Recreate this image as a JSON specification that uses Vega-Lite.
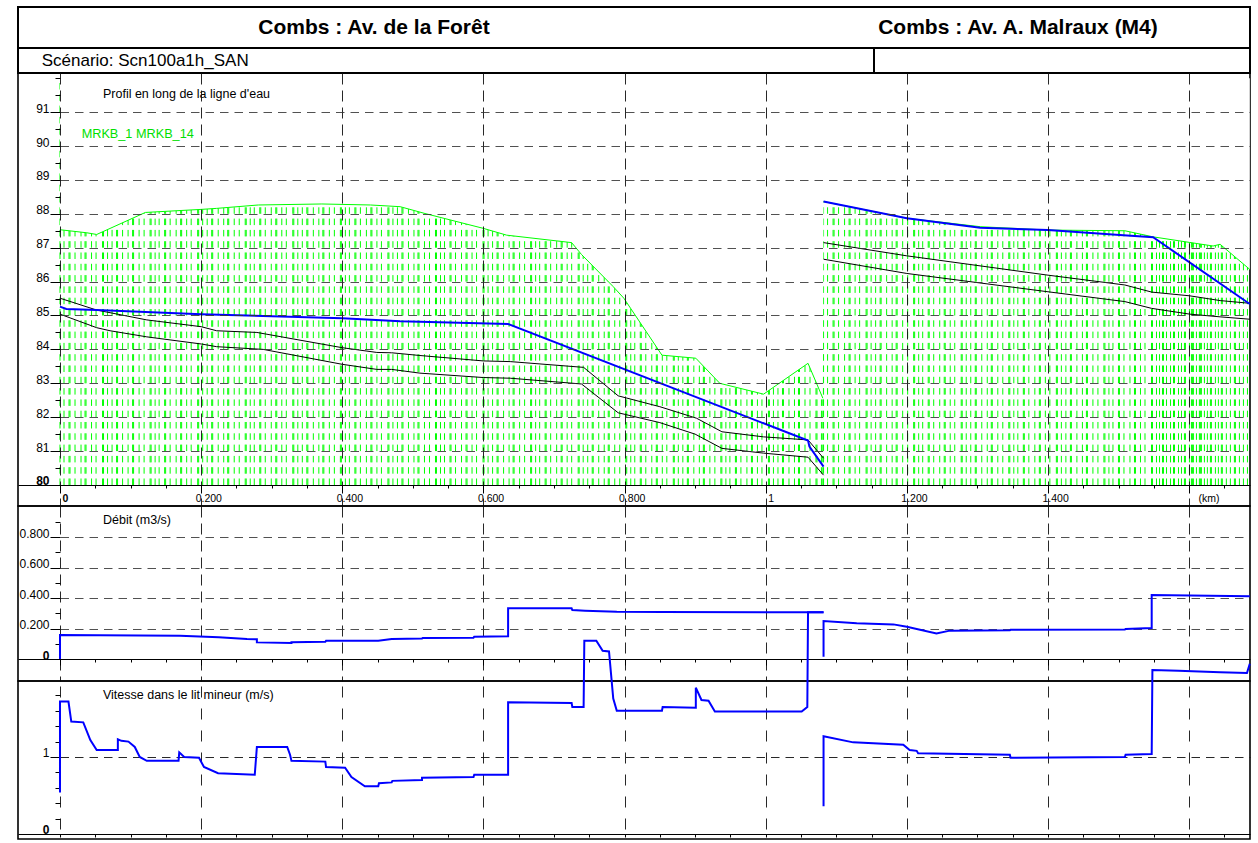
{
  "$schema": "https://vega.github.io/schema/vega-lite/v6.json",
  "background": "white",
  "padding": {"left": 17, "top": 6, "right": 5, "bottom": 0},
  "bounds": "flush",
  "spacing": 0,
  "config": {
    "view": {"stroke": "black", "strokeWidth": 1.6},
    "font": "Liberation Sans",
    "text": {"font": "Liberation Sans", "color": "black"},
    "axis": {"labelOverlap": false, "tickCount": 200}
  },
  "datasets": {
    "profil": [
      {"serie": "berge", "troncon": 1, "km": 0, "z": 87.53},
      {"serie": "berge", "troncon": 1, "km": 0.038, "z": 87.44},
      {"serie": "berge", "troncon": 1, "km": 0.052, "z": 87.39},
      {"serie": "berge", "troncon": 1, "km": 0.121, "z": 88.04},
      {"serie": "berge", "troncon": 1, "km": 0.2, "z": 88.13},
      {"serie": "berge", "troncon": 1, "km": 0.222, "z": 88.16},
      {"serie": "berge", "troncon": 1, "km": 0.281, "z": 88.26},
      {"serie": "berge", "troncon": 1, "km": 0.371, "z": 88.29},
      {"serie": "berge", "troncon": 1, "km": 0.44, "z": 88.26},
      {"serie": "berge", "troncon": 1, "km": 0.482, "z": 88.21},
      {"serie": "berge", "troncon": 1, "km": 0.517, "z": 88.01},
      {"serie": "berge", "troncon": 1, "km": 0.6, "z": 87.57},
      {"serie": "berge", "troncon": 1, "km": 0.633, "z": 87.37},
      {"serie": "berge", "troncon": 1, "km": 0.725, "z": 87.15},
      {"serie": "berge", "troncon": 1, "km": 0.739, "z": 86.8},
      {"serie": "berge", "troncon": 1, "km": 0.784, "z": 85.85},
      {"serie": "berge", "troncon": 1, "km": 0.799, "z": 85.51},
      {"serie": "berge", "troncon": 1, "km": 0.853, "z": 83.83},
      {"serie": "berge", "troncon": 1, "km": 0.901, "z": 83.74},
      {"serie": "berge", "troncon": 1, "km": 0.935, "z": 83.0},
      {"serie": "berge", "troncon": 1, "km": 0.997, "z": 82.68},
      {"serie": "berge", "troncon": 1, "km": 1.06, "z": 83.59},
      {"serie": "berge", "troncon": 1, "km": 1.081, "z": 82.56},
      {"serie": "berge", "troncon": 2, "km": 1.082, "z": 88.36},
      {"serie": "berge", "troncon": 2, "km": 1.2, "z": 87.87},
      {"serie": "berge", "troncon": 2, "km": 1.304, "z": 87.62},
      {"serie": "berge", "troncon": 2, "km": 1.4, "z": 87.52},
      {"serie": "berge", "troncon": 2, "km": 1.509, "z": 87.5},
      {"serie": "berge", "troncon": 2, "km": 1.549, "z": 87.32},
      {"serie": "berge", "troncon": 2, "km": 1.634, "z": 87.05},
      {"serie": "berge", "troncon": 2, "km": 1.644, "z": 87.1},
      {"serie": "berge", "troncon": 2, "km": 1.686, "z": 86.36},

      {"serie": "haut", "troncon": 1, "km": 0, "z": 85.51},
      {"serie": "haut", "troncon": 1, "km": 0.052, "z": 85.16},
      {"serie": "haut", "troncon": 1, "km": 0.123, "z": 84.87},
      {"serie": "haut", "troncon": 1, "km": 0.2, "z": 84.67},
      {"serie": "haut", "troncon": 1, "km": 0.222, "z": 84.55},
      {"serie": "haut", "troncon": 1, "km": 0.279, "z": 84.5},
      {"serie": "haut", "troncon": 1, "km": 0.4, "z": 84.05},
      {"serie": "haut", "troncon": 1, "km": 0.449, "z": 83.91},
      {"serie": "haut", "troncon": 1, "km": 0.47, "z": 83.9},
      {"serie": "haut", "troncon": 1, "km": 0.51, "z": 83.82},
      {"serie": "haut", "troncon": 1, "km": 0.6, "z": 83.66},
      {"serie": "haut", "troncon": 1, "km": 0.638, "z": 83.64},
      {"serie": "haut", "troncon": 1, "km": 0.742, "z": 83.47},
      {"serie": "haut", "troncon": 1, "km": 0.791, "z": 82.63},
      {"serie": "haut", "troncon": 1, "km": 0.85, "z": 82.31},
      {"serie": "haut", "troncon": 1, "km": 0.902, "z": 81.97},
      {"serie": "haut", "troncon": 1, "km": 0.938, "z": 81.57},
      {"serie": "haut", "troncon": 1, "km": 0.997, "z": 81.42},
      {"serie": "haut", "troncon": 1, "km": 1.06, "z": 81.33},
      {"serie": "haut", "troncon": 1, "km": 1.082, "z": 80.79},
      {"serie": "haut", "troncon": 2, "km": 1.082, "z": 87.15},
      {"serie": "haut", "troncon": 2, "km": 1.2, "z": 86.76},
      {"serie": "haut", "troncon": 2, "km": 1.4, "z": 86.19},
      {"serie": "haut", "troncon": 2, "km": 1.509, "z": 85.9},
      {"serie": "haut", "troncon": 2, "km": 1.547, "z": 85.69},
      {"serie": "haut", "troncon": 2, "km": 1.601, "z": 85.58},
      {"serie": "haut", "troncon": 2, "km": 1.644, "z": 85.44},
      {"serie": "haut", "troncon": 2, "km": 1.686, "z": 85.36},

      {"serie": "bas", "troncon": 1, "km": 0, "z": 85.04},
      {"serie": "bas", "troncon": 1, "km": 0.052, "z": 84.64},
      {"serie": "bas", "troncon": 1, "km": 0.071, "z": 84.55},
      {"serie": "bas", "troncon": 1, "km": 0.123, "z": 84.37},
      {"serie": "bas", "troncon": 1, "km": 0.2, "z": 84.16},
      {"serie": "bas", "troncon": 1, "km": 0.222, "z": 84.08},
      {"serie": "bas", "troncon": 1, "km": 0.288, "z": 84.0},
      {"serie": "bas", "troncon": 1, "km": 0.4, "z": 83.56},
      {"serie": "bas", "troncon": 1, "km": 0.449, "z": 83.41},
      {"serie": "bas", "troncon": 1, "km": 0.47, "z": 83.41},
      {"serie": "bas", "troncon": 1, "km": 0.51, "z": 83.3},
      {"serie": "bas", "troncon": 1, "km": 0.6, "z": 83.17},
      {"serie": "bas", "troncon": 1, "km": 0.638, "z": 83.15},
      {"serie": "bas", "troncon": 1, "km": 0.739, "z": 82.98},
      {"serie": "bas", "troncon": 1, "km": 0.791, "z": 82.13},
      {"serie": "bas", "troncon": 1, "km": 0.85, "z": 81.84},
      {"serie": "bas", "troncon": 1, "km": 0.9, "z": 81.5},
      {"serie": "bas", "troncon": 1, "km": 0.938, "z": 81.08},
      {"serie": "bas", "troncon": 1, "km": 0.997, "z": 80.94},
      {"serie": "bas", "troncon": 1, "km": 1.06, "z": 80.82},
      {"serie": "bas", "troncon": 1, "km": 1.082, "z": 80.29},
      {"serie": "bas", "troncon": 2, "km": 1.082, "z": 86.66},
      {"serie": "bas", "troncon": 2, "km": 1.2, "z": 86.24},
      {"serie": "bas", "troncon": 2, "km": 1.4, "z": 85.7},
      {"serie": "bas", "troncon": 2, "km": 1.509, "z": 85.41},
      {"serie": "bas", "troncon": 2, "km": 1.547, "z": 85.21},
      {"serie": "bas", "troncon": 2, "km": 1.601, "z": 85.04},
      {"serie": "bas", "troncon": 2, "km": 1.644, "z": 84.96},
      {"serie": "bas", "troncon": 2, "km": 1.686, "z": 84.89},

      {"serie": "eau", "troncon": 1, "km": 0, "z": 85.26},
      {"serie": "eau", "troncon": 1, "km": 0.009, "z": 85.19},
      {"serie": "eau", "troncon": 1, "km": 0.052, "z": 85.16},
      {"serie": "eau", "troncon": 1, "km": 0.2, "z": 85.04},
      {"serie": "eau", "troncon": 1, "km": 0.4, "z": 84.92},
      {"serie": "eau", "troncon": 1, "km": 0.482, "z": 84.83},
      {"serie": "eau", "troncon": 1, "km": 0.635, "z": 84.75},
      {"serie": "eau", "troncon": 1, "km": 1.06, "z": 81.31},
      {"serie": "eau", "troncon": 1, "km": 1.062, "z": 81.13},
      {"serie": "eau", "troncon": 1, "km": 1.082, "z": 80.54},
      {"serie": "eau", "troncon": 2, "km": 1.082, "z": 88.36},
      {"serie": "eau", "troncon": 2, "km": 1.2, "z": 87.87},
      {"serie": "eau", "troncon": 2, "km": 1.304, "z": 87.59},
      {"serie": "eau", "troncon": 2, "km": 1.4, "z": 87.52},
      {"serie": "eau", "troncon": 2, "km": 1.507, "z": 87.37},
      {"serie": "eau", "troncon": 2, "km": 1.549, "z": 87.31},
      {"serie": "eau", "troncon": 2, "km": 1.686, "z": 85.34}
    ],
    "debit": [
      {"troncon": 1, "km": 0, "q": 0},
      {"troncon": 1, "km": 0, "q": 0.157},
      {"troncon": 1, "km": 0.17, "q": 0.153},
      {"troncon": 1, "km": 0.225, "q": 0.142},
      {"troncon": 1, "km": 0.265, "q": 0.131},
      {"troncon": 1, "km": 0.279, "q": 0.129},
      {"troncon": 1, "km": 0.279, "q": 0.109},
      {"troncon": 1, "km": 0.328, "q": 0.105},
      {"troncon": 1, "km": 0.328, "q": 0.11},
      {"troncon": 1, "km": 0.376, "q": 0.113},
      {"troncon": 1, "km": 0.377, "q": 0.119},
      {"troncon": 1, "km": 0.451, "q": 0.12},
      {"troncon": 1, "km": 0.47, "q": 0.131},
      {"troncon": 1, "km": 0.513, "q": 0.134},
      {"troncon": 1, "km": 0.514, "q": 0.138},
      {"troncon": 1, "km": 0.586, "q": 0.14},
      {"troncon": 1, "km": 0.587, "q": 0.146},
      {"troncon": 1, "km": 0.635, "q": 0.149},
      {"troncon": 1, "km": 0.635, "q": 0.332},
      {"troncon": 1, "km": 0.725, "q": 0.332},
      {"troncon": 1, "km": 0.726, "q": 0.321},
      {"troncon": 1, "km": 0.744, "q": 0.317},
      {"troncon": 1, "km": 0.789, "q": 0.31},
      {"troncon": 1, "km": 0.853, "q": 0.308},
      {"troncon": 1, "km": 1.06, "q": 0.306},
      {"troncon": 1, "km": 1.082, "q": 0.306},
      {"troncon": 2, "km": 1.082, "q": 0.015},
      {"troncon": 2, "km": 1.082, "q": 0.249},
      {"troncon": 2, "km": 1.129, "q": 0.234},
      {"troncon": 2, "km": 1.181, "q": 0.227},
      {"troncon": 2, "km": 1.2, "q": 0.212},
      {"troncon": 2, "km": 1.242, "q": 0.168},
      {"troncon": 2, "km": 1.261, "q": 0.186},
      {"troncon": 2, "km": 1.346, "q": 0.188},
      {"troncon": 2, "km": 1.347, "q": 0.191},
      {"troncon": 2, "km": 1.509, "q": 0.193},
      {"troncon": 2, "km": 1.51, "q": 0.197},
      {"troncon": 2, "km": 1.547, "q": 0.203},
      {"troncon": 2, "km": 1.547, "q": 0.42},
      {"troncon": 2, "km": 1.686, "q": 0.411}
    ],
    "vitesse": [
      {"troncon": 1, "km": 0, "v": 0.54},
      {"troncon": 1, "km": 0, "v": 1.72},
      {"troncon": 1, "km": 0.012, "v": 1.72},
      {"troncon": 1, "km": 0.016, "v": 1.46},
      {"troncon": 1, "km": 0.033, "v": 1.45},
      {"troncon": 1, "km": 0.043, "v": 1.22},
      {"troncon": 1, "km": 0.052, "v": 1.09},
      {"troncon": 1, "km": 0.082, "v": 1.09},
      {"troncon": 1, "km": 0.082, "v": 1.23},
      {"troncon": 1, "km": 0.087, "v": 1.21},
      {"troncon": 1, "km": 0.097, "v": 1.2},
      {"troncon": 1, "km": 0.106, "v": 1.13},
      {"troncon": 1, "km": 0.113, "v": 1.0},
      {"troncon": 1, "km": 0.123, "v": 0.95},
      {"troncon": 1, "km": 0.168, "v": 0.95},
      {"troncon": 1, "km": 0.169, "v": 1.06},
      {"troncon": 1, "km": 0.176, "v": 1.0},
      {"troncon": 1, "km": 0.197, "v": 0.99},
      {"troncon": 1, "km": 0.204, "v": 0.87},
      {"troncon": 1, "km": 0.224, "v": 0.79},
      {"troncon": 1, "km": 0.276, "v": 0.77},
      {"troncon": 1, "km": 0.279, "v": 1.13},
      {"troncon": 1, "km": 0.322, "v": 1.13},
      {"troncon": 1, "km": 0.326, "v": 1.03},
      {"troncon": 1, "km": 0.328, "v": 0.95},
      {"troncon": 1, "km": 0.376, "v": 0.94},
      {"troncon": 1, "km": 0.377, "v": 0.87},
      {"troncon": 1, "km": 0.404, "v": 0.86},
      {"troncon": 1, "km": 0.413, "v": 0.74},
      {"troncon": 1, "km": 0.432, "v": 0.62},
      {"troncon": 1, "km": 0.451, "v": 0.62},
      {"troncon": 1, "km": 0.452, "v": 0.66},
      {"troncon": 1, "km": 0.47, "v": 0.67},
      {"troncon": 1, "km": 0.471, "v": 0.69},
      {"troncon": 1, "km": 0.513, "v": 0.7},
      {"troncon": 1, "km": 0.513, "v": 0.73},
      {"troncon": 1, "km": 0.586, "v": 0.74},
      {"troncon": 1, "km": 0.587, "v": 0.77},
      {"troncon": 1, "km": 0.635, "v": 0.77},
      {"troncon": 1, "km": 0.635, "v": 1.71},
      {"troncon": 1, "km": 0.725, "v": 1.7},
      {"troncon": 1, "km": 0.726, "v": 1.65},
      {"troncon": 1, "km": 0.742, "v": 1.65},
      {"troncon": 1, "km": 0.743, "v": 2.51},
      {"troncon": 1, "km": 0.76, "v": 2.51},
      {"troncon": 1, "km": 0.769, "v": 2.38},
      {"troncon": 1, "km": 0.778, "v": 2.37},
      {"troncon": 1, "km": 0.784, "v": 1.76},
      {"troncon": 1, "km": 0.789, "v": 1.6},
      {"troncon": 1, "km": 0.853, "v": 1.6},
      {"troncon": 1, "km": 0.854, "v": 1.65},
      {"troncon": 1, "km": 0.901, "v": 1.64},
      {"troncon": 1, "km": 0.901, "v": 1.9},
      {"troncon": 1, "km": 0.909, "v": 1.74},
      {"troncon": 1, "km": 0.919, "v": 1.73},
      {"troncon": 1, "km": 0.928, "v": 1.59},
      {"troncon": 1, "km": 1.051, "v": 1.59},
      {"troncon": 1, "km": 1.059, "v": 1.65},
      {"troncon": 1, "km": 1.06, "v": 2.88},
      {"troncon": 1, "km": 1.082, "v": 2.88},
      {"troncon": 2, "km": 1.082, "v": 0.36},
      {"troncon": 2, "km": 1.082, "v": 1.27},
      {"troncon": 2, "km": 1.124, "v": 1.19},
      {"troncon": 2, "km": 1.195, "v": 1.16},
      {"troncon": 2, "km": 1.204, "v": 1.09},
      {"troncon": 2, "km": 1.214, "v": 1.08},
      {"troncon": 2, "km": 1.216, "v": 1.05},
      {"troncon": 2, "km": 1.346, "v": 1.03},
      {"troncon": 2, "km": 1.347, "v": 0.99},
      {"troncon": 2, "km": 1.509, "v": 1.0},
      {"troncon": 2, "km": 1.51, "v": 1.03},
      {"troncon": 2, "km": 1.547, "v": 1.04},
      {"troncon": 2, "km": 1.548, "v": 2.13},
      {"troncon": 2, "km": 1.585, "v": 2.12},
      {"troncon": 2, "km": 1.644, "v": 2.1},
      {"troncon": 2, "km": 1.682, "v": 2.09},
      {"troncon": 2, "km": 1.686, "v": 2.21}
    ],
    "hachures": [
      {"km": 0.0}, {"km": 0.0057}, {"km": 0.0128}, {"km": 0.0142}, {"km": 0.0213}, {"km": 0.0298}, {"km": 0.0355}, {"km": 0.0369}, {"km": 0.0447}, {"km": 0.0511}, {"km": 0.0603}, {"km": 0.0617},
      {"km": 0.0674}, {"km": 0.0738}, {"km": 0.0802}, {"km": 0.0816}, {"km": 0.0887}, {"km": 0.0965}, {"km": 0.1029}, {"km": 0.1043}, {"km": 0.1121}, {"km": 0.1192}, {"km": 0.1277}, {"km": 0.1291},
      {"km": 0.1348}, {"km": 0.1405}, {"km": 0.1483}, {"km": 0.1497}, {"km": 0.1561}, {"km": 0.1646}, {"km": 0.171}, {"km": 0.1724}, {"km": 0.1795}, {"km": 0.1859}, {"km": 0.1951}, {"km": 0.1965},
      {"km": 0.2022}, {"km": 0.2086}, {"km": 0.215}, {"km": 0.2164}, {"km": 0.2242}, {"km": 0.232}, {"km": 0.2377}, {"km": 0.2391}, {"km": 0.2469}, {"km": 0.254}, {"km": 0.2625}, {"km": 0.2639},
      {"km": 0.2696}, {"km": 0.2753}, {"km": 0.2831}, {"km": 0.2845}, {"km": 0.2909}, {"km": 0.2994}, {"km": 0.3058}, {"km": 0.3072}, {"km": 0.3143}, {"km": 0.3207}, {"km": 0.3299}, {"km": 0.3313},
      {"km": 0.337}, {"km": 0.3434}, {"km": 0.3498}, {"km": 0.3512}, {"km": 0.359}, {"km": 0.3668}, {"km": 0.3725}, {"km": 0.3739}, {"km": 0.3817}, {"km": 0.3888}, {"km": 0.3973}, {"km": 0.3987},
      {"km": 0.4044}, {"km": 0.4101}, {"km": 0.4179}, {"km": 0.4193}, {"km": 0.4257}, {"km": 0.4342}, {"km": 0.4406}, {"km": 0.442}, {"km": 0.4491}, {"km": 0.4555}, {"km": 0.4647}, {"km": 0.4661},
      {"km": 0.4718}, {"km": 0.4782}, {"km": 0.4846}, {"km": 0.486}, {"km": 0.4938}, {"km": 0.5016}, {"km": 0.5073}, {"km": 0.5087}, {"km": 0.5165}, {"km": 0.5236}, {"km": 0.5321}, {"km": 0.5335},
      {"km": 0.5392}, {"km": 0.5449}, {"km": 0.5527}, {"km": 0.5541}, {"km": 0.5605}, {"km": 0.569}, {"km": 0.5754}, {"km": 0.5768}, {"km": 0.5839}, {"km": 0.5903}, {"km": 0.5995}, {"km": 0.6009},
      {"km": 0.6066}, {"km": 0.613}, {"km": 0.6194}, {"km": 0.6208}, {"km": 0.6286}, {"km": 0.6364}, {"km": 0.6421}, {"km": 0.6435}, {"km": 0.6513}, {"km": 0.6584}, {"km": 0.6669}, {"km": 0.6683},
      {"km": 0.674}, {"km": 0.6797}, {"km": 0.6875}, {"km": 0.6889}, {"km": 0.6953}, {"km": 0.7038}, {"km": 0.7102}, {"km": 0.7116}, {"km": 0.7187}, {"km": 0.7251}, {"km": 0.7343}, {"km": 0.7357},
      {"km": 0.7414}, {"km": 0.7478}, {"km": 0.7542}, {"km": 0.7556}, {"km": 0.7634}, {"km": 0.7712}, {"km": 0.7769}, {"km": 0.7783}, {"km": 0.7861}, {"km": 0.7932}, {"km": 0.8017}, {"km": 0.8031},
      {"km": 0.8088}, {"km": 0.8145}, {"km": 0.8223}, {"km": 0.8237}, {"km": 0.8301}, {"km": 0.8386}, {"km": 0.845}, {"km": 0.8464}, {"km": 0.8535}, {"km": 0.8599}, {"km": 0.8691}, {"km": 0.8705},
      {"km": 0.8762}, {"km": 0.8826}, {"km": 0.889}, {"km": 0.8904}, {"km": 0.8982}, {"km": 0.906}, {"km": 0.9117}, {"km": 0.9131}, {"km": 0.9209}, {"km": 0.928}, {"km": 0.9365}, {"km": 0.9379},
      {"km": 0.9436}, {"km": 0.9493}, {"km": 0.9571}, {"km": 0.9585}, {"km": 0.9649}, {"km": 0.9734}, {"km": 0.9798}, {"km": 0.9812}, {"km": 0.9883}, {"km": 0.9947}, {"km": 1.0039}, {"km": 1.0053},
      {"km": 1.011}, {"km": 1.0174}, {"km": 1.0238}, {"km": 1.0252}, {"km": 1.033}, {"km": 1.0408}, {"km": 1.0465}, {"km": 1.0479}, {"km": 1.0557}, {"km": 1.0628}, {"km": 1.0713}, {"km": 1.0727},
      {"km": 1.079}, {"km": 1.081},
      {"km": 1.082}, {"km": 1.0877}, {"km": 1.0955}, {"km": 1.0969}, {"km": 1.1033}, {"km": 1.1118}, {"km": 1.1182}, {"km": 1.1196}, {"km": 1.1267}, {"km": 1.1331}, {"km": 1.1423}, {"km": 1.1437},
      {"km": 1.1494}, {"km": 1.1558}, {"km": 1.1622}, {"km": 1.1636}, {"km": 1.1714}, {"km": 1.1792}, {"km": 1.1849}, {"km": 1.1863}, {"km": 1.1941}, {"km": 1.2012}, {"km": 1.2097}, {"km": 1.2111},
      {"km": 1.2168}, {"km": 1.2225}, {"km": 1.2303}, {"km": 1.2317}, {"km": 1.2381}, {"km": 1.2466}, {"km": 1.253}, {"km": 1.2544}, {"km": 1.2615}, {"km": 1.2679}, {"km": 1.2771}, {"km": 1.2785},
      {"km": 1.2842}, {"km": 1.2906}, {"km": 1.297}, {"km": 1.2984}, {"km": 1.3062}, {"km": 1.314}, {"km": 1.3197}, {"km": 1.3211}, {"km": 1.3289}, {"km": 1.336}, {"km": 1.3445}, {"km": 1.3459},
      {"km": 1.3516}, {"km": 1.3573}, {"km": 1.3651}, {"km": 1.3665}, {"km": 1.3729}, {"km": 1.3814}, {"km": 1.3878}, {"km": 1.3892}, {"km": 1.3963}, {"km": 1.4027}, {"km": 1.4119}, {"km": 1.4133},
      {"km": 1.419}, {"km": 1.4254}, {"km": 1.4318}, {"km": 1.4332}, {"km": 1.441}, {"km": 1.4488}, {"km": 1.4545}, {"km": 1.4559}, {"km": 1.4637}, {"km": 1.4708}, {"km": 1.4793}, {"km": 1.4807},
      {"km": 1.4864}, {"km": 1.4921}, {"km": 1.4999}, {"km": 1.5013}, {"km": 1.5077}, {"km": 1.5162}, {"km": 1.5226}, {"km": 1.524}, {"km": 1.5311}, {"km": 1.5375}, {"km": 1.5467}, {"km": 1.5481},
      {"km": 1.5538}, {"km": 1.5581}, {"km": 1.5623}, {"km": 1.5637}, {"km": 1.568}, {"km": 1.5737}, {"km": 1.5779}, {"km": 1.5793}, {"km": 1.585}, {"km": 1.5892}, {"km": 1.5934}, {"km": 1.5948},
      {"km": 1.6005}, {"km": 1.6033}, {"km": 1.6047}, {"km": 1.6061}, {"km": 1.6104}, {"km": 1.6146}, {"km": 1.616}, {"km": 1.6174}, {"km": 1.6217}, {"km": 1.6259}, {"km": 1.6302}, {"km": 1.6316},
      {"km": 1.6373}, {"km": 1.6415}, {"km": 1.6457}, {"km": 1.6471}, {"km": 1.6528}, {"km": 1.6585}, {"km": 1.6642}, {"km": 1.6656}, {"km": 1.6713}, {"km": 1.677}, {"km": 1.6827}
    ]
  },
  "vconcat": [
    {
      "width": 1232,
      "height": 41,
      "view": {"stroke": "black", "strokeWidth": 2},
      "layer": [
        {
          "data": {"values": [{"titre": "Combs : Av. de la Forêt"}]},
          "mark": {"type": "text", "font": "Liberation Sans", "fontSize": 21, "fontWeight": "bold", "align": "center", "baseline": "middle"},
          "encoding": {
            "x": {"datum": 0.4449, "type": "quantitative", "scale": {"domain": [-0.0595, 1.6863], "nice": false, "zero": false}, "axis": null},
            "text": {"field": "titre"}
          }
        },
        {
          "data": {"values": [{"titre": "Combs : Av. A. Malraux (M4)"}]},
          "mark": {"type": "text", "font": "Liberation Sans", "fontSize": 21, "fontWeight": "bold", "align": "center", "baseline": "middle"},
          "encoding": {
            "x": {"datum": 1.3575, "type": "quantitative"},
            "text": {"field": "titre"}
          }
        }
      ]
    },
    {
      "width": 1232,
      "height": 25,
      "view": {"stroke": "black", "strokeWidth": 2},
      "layer": [
        {
          "data": {"values": [{"scenario": "Scénario: Scn100a1h_SAN"}]},
          "mark": {"type": "text", "font": "Liberation Sans", "fontSize": 17, "align": "left", "baseline": "middle"},
          "encoding": {
            "x": {"datum": -0.0259, "type": "quantitative", "scale": {"domain": [-0.0595, 1.6863], "nice": false, "zero": false}, "axis": null},
            "text": {"field": "scenario"}
          }
        },
        {
          "data": {"values": [{}]},
          "mark": {"type": "rule", "color": "black", "strokeWidth": 2},
          "encoding": {
            "x": {"datum": 1.1535, "type": "quantitative"}
          }
        }
      ]
    },
    {
      "width": 1232,
      "height": 433,
      "layer": [
        {
          "data": {"name": "hachures"},
          "mark": {"type": "rule", "color": "#00ff00", "strokeWidth": 1, "strokeDash": [6.5, 4.8]},
          "encoding": {
            "x": {
              "field": "km", "type": "quantitative",
              "scale": {"domain": [-0.0595, 1.6863], "nice": false, "zero": false},
              "axis": {
                "title": null, "orient": "bottom", "offset": -21, "zindex": 1, "tickCount": 200,
                "values": [0, 0.05, 0.1, 0.15, 0.2, 0.25, 0.3, 0.35, 0.4, 0.45, 0.5, 0.55, 0.6, 0.65, 0.7, 0.75, 0.8, 0.85, 0.9, 0.95, 1, 1.05, 1.1, 1.15, 1.2, 1.25, 1.3, 1.35, 1.4, 1.45, 1.5, 1.55, 1.6, 1.65],
                "domain": true, "domainColor": "black", "domainWidth": 1.2,
                "ticks": true, "tickColor": "black", "tickWidth": 1,
                "tickSize": {"condition": {"test": "abs(datum.value*5 - round(datum.value*5)) < 0.001", "value": 8}, "value": 3},
                "grid": true, "gridColor": "#111111", "gridWidth": 1, "gridDash": [11, 6],
                "gridOpacity": {"condition": {"test": "abs(datum.value*5 - round(datum.value*5)) < 0.001", "value": 0.9}, "value": 0},
                "labelExpr": "abs(datum.value*5 - round(datum.value*5)) < 0.001 ? (datum.value == 0 ? '0' : abs(datum.value - 1) < 0.001 ? '1' : abs(datum.value - 1.6) < 0.001 ? '(km)' : format(datum.value, '.3f')) : ''",
                "labelFont": "Liberation Sans", "labelFontSize": 10.5, "labelColor": "black",
                "labelAlign": "left", "labelBaseline": "top", "labelPadding": 0,
                "labelOffset": {"condition": [{"test": "datum.value == 0 || abs(datum.value - 1) < 0.001", "value": 2}, {"test": "abs(datum.value - 1.6) < 0.001", "value": 9}], "value": -6},
                "labelFontWeight": {"condition": {"test": "datum.value == 0", "value": "bold"}, "value": "normal"},
                "labelOverlap": false, "labelFlush": false, "labelBound": false, "minExtent": 0
              }
            },
            "y": {
              "datum": 80, "type": "quantitative",
              "scale": {"domain": [79.3805, 92.1534], "nice": false, "zero": false},
              "axis": {
                "title": null, "orient": "left", "offset": -42, "zindex": 1, "domain": false, "tickCount": 200,
                "values": [80, 80.5, 81, 81.5, 82, 82.5, 83, 83.5, 84, 84.5, 85, 85.5, 86, 86.5, 87, 87.5, 88, 88.5, 89, 89.5, 90, 90.5, 91, 91.5, 92],
                "ticks": true, "tickColor": "black", "tickWidth": 1,
                "tickSize": {"condition": {"test": "datum.value % 1 == 0 && datum.value < 92", "value": 10}, "value": 5},
                "labelExpr": "datum.value % 1 == 0 && datum.value < 92 ? format(datum.value, 'd') : ''",
                "labelFont": "Liberation Sans", "labelFontSize": 12, "labelColor": "black",
                "labelAlign": "right", "labelBaseline": "alphabetic", "labelPadding": 1,
                "labelFontWeight": {"condition": {"test": "datum.value == 80", "value": "bold"}, "value": "normal"},
                "grid": true, "gridColor": "#333333", "gridWidth": 1,
                "gridDash": [0, 42, 8.5, 6, 8.5, 6, 8.5, 6, 8.5, 6, 8.5, 6, 8.5, 6, 8.5, 6, 8.5, 6, 8.5, 6, 8.5, 6, 8.5, 6, 8.5, 6, 8.5, 6, 8.5, 6, 8.5, 6, 8.5, 6, 8.5, 6, 8.5, 6, 8.5, 6, 8.5, 6, 8.5, 6, 8.5, 6, 8.5, 6, 8.5, 6, 8.5, 6, 8.5, 6, 8.5, 6, 8.5, 6, 8.5, 6, 8.5, 6, 8.5, 6, 8.5, 6, 8.5, 6, 8.5, 6, 8.5, 6, 8.5, 6, 8.5, 6, 8.5, 6, 8.5, 6, 8.5, 6, 8.5, 6, 8.5, 6, 8.5, 6, 8.5, 6, 8.5, 6, 8.5, 6, 8.5, 6, 8.5, 6, 8.5, 6, 8.5, 6, 8.5, 6, 8.5, 6, 8.5, 6, 8.5, 6, 8.5, 6, 8.5, 6, 8.5, 6, 8.5, 6, 8.5, 6, 8.5, 6, 8.5, 6, 8.5, 6, 8.5, 6, 8.5, 6, 8.5, 6, 8.5, 6, 8.5, 6, 8.5, 6, 8.5, 6, 8.5, 6, 8.5, 6, 8.5, 6, 8.5, 6, 8.5, 6, 8.5, 6, 8.5, 6, 8.5, 6, 8.5, 6, 8.5, 6, 8.5, 6, 8.5, 6, 8.5, 6, 8.5, 6, 8.5, 6, 8.5, 6, 8.5, 6, 8.5, 6, 8.5, 6, 8.5, 6, 8.5, 6, 8.5, 6, 8.5, 6, 8.5, 6],
                "gridOpacity": {"condition": {"test": "datum.value % 1 == 0 && datum.value > 80 && datum.value < 92", "value": 0.85}, "value": 0},
                "labelOverlap": false, "labelFlush": false, "labelBound": false, "minExtent": 0
              }
            },
            "y2": {"datum": 92}
          }
        },
        {
          "data": {"name": "profil"},
          "transform": [{"filter": "datum.serie == 'berge'"}],
          "mark": {"type": "area", "color": "white", "opacity": 1},
          "encoding": {
            "x": {"field": "km", "type": "quantitative"},
            "y": {"field": "z", "type": "quantitative"},
            "y2": {"datum": 92}
          }
        },
        {
          "data": {"name": "profil"},
          "transform": [{"filter": "datum.serie == 'berge'"}],
          "mark": {"type": "line", "color": "#00ff00", "strokeWidth": 1},
          "encoding": {
            "x": {"field": "km", "type": "quantitative"},
            "y": {"field": "z", "type": "quantitative"},
            "detail": {"field": "troncon"},
            "order": {"value": null}
          }
        },
        {
          "data": {"name": "profil"},
          "transform": [{"filter": "datum.serie == 'haut' || datum.serie == 'bas'"}],
          "mark": {"type": "line", "color": "black", "strokeWidth": 1},
          "encoding": {
            "x": {"field": "km", "type": "quantitative"},
            "y": {"field": "z", "type": "quantitative"},
            "detail": [{"field": "serie"}, {"field": "troncon"}],
            "order": {"value": null}
          }
        },
        {
          "data": {"name": "profil"},
          "transform": [{"filter": "datum.serie == 'eau'"}],
          "mark": {"type": "line", "color": "#0000ff", "strokeWidth": 2},
          "encoding": {
            "x": {"field": "km", "type": "quantitative"},
            "y": {"field": "z", "type": "quantitative"},
            "detail": {"field": "troncon"},
            "order": {"value": null}
          }
        },
        {
          "data": {"values": [{"libelle": "Profil en long de la ligne d'eau"}]},
          "mark": {"type": "text", "font": "Liberation Sans", "fontSize": 12.5, "align": "left", "baseline": "alphabetic", "color": "black"},
          "encoding": {
            "x": {"datum": 0.0609, "type": "quantitative"},
            "y": {"datum": 91.425, "type": "quantitative"},
            "text": {"field": "libelle"}
          }
        },
        {
          "data": {"values": [{"libelle": "MRKB_1 MRKB_14"}]},
          "mark": {"type": "text", "font": "Liberation Sans", "fontSize": 12.7, "align": "left", "baseline": "alphabetic", "color": "#00e000"},
          "encoding": {
            "x": {"datum": 0.0307, "type": "quantitative"},
            "y": {"datum": 90.227, "type": "quantitative"},
            "text": {"field": "libelle"}
          }
        }
      ]
    },
    {
      "width": 1232,
      "height": 175,
      "layer": [
        {
          "data": {"name": "debit"},
          "mark": {"type": "line", "color": "#0000ff", "strokeWidth": 2},
          "encoding": {
            "x": {
              "field": "km", "type": "quantitative",
              "scale": {"domain": [-0.0595, 1.6863], "nice": false, "zero": false},
              "axis": {
                "title": null, "orient": "bottom", "offset": -22, "labels": false, "tickCount": 200,
                "values": [0, 0.05, 0.1, 0.15, 0.2, 0.25, 0.3, 0.35, 0.4, 0.45, 0.5, 0.55, 0.6, 0.65, 0.7, 0.75, 0.8, 0.85, 0.9, 0.95, 1, 1.05, 1.1, 1.15, 1.2, 1.25, 1.3, 1.35, 1.4, 1.45, 1.5, 1.55, 1.6, 1.65],
                "domain": true, "domainColor": "black", "domainWidth": 1.2,
                "ticks": true, "tickColor": "black", "tickWidth": 1,
                "tickSize": {"condition": {"test": "abs(datum.value*5 - round(datum.value*5)) < 0.001", "value": 6}, "value": 3},
                "grid": true, "gridColor": "#111111", "gridWidth": 1, "gridDash": [11, 6],
                "gridOpacity": {"condition": {"test": "abs(datum.value*5 - round(datum.value*5)) < 0.001", "value": 0.9}, "value": 0},
                "minExtent": 0
              }
            },
            "y": {
              "field": "q", "type": "quantitative",
              "scale": {"domain": [-0.14426, 1.00328], "nice": false, "zero": false},
              "axis": {
                "title": null, "orient": "left", "offset": -42, "domain": false, "tickCount": 200,
                "values": [0, 0.1, 0.2, 0.3, 0.4, 0.5, 0.6, 0.7, 0.8, 0.9],
                "ticks": true, "tickColor": "black", "tickWidth": 1,
                "tickSize": {"condition": {"test": "abs(datum.value*5 - round(datum.value*5)) < 0.001", "value": 10}, "value": 5},
                "labelExpr": "abs(datum.value*5 - round(datum.value*5)) < 0.001 ? (datum.value == 0 ? '0' : format(datum.value, '.3f')) : ''",
                "labelFont": "Liberation Sans", "labelFontSize": 12, "labelColor": "black",
                "labelAlign": "right", "labelBaseline": "alphabetic", "labelPadding": 1,
                "labelFontWeight": {"condition": {"test": "datum.value == 0", "value": "bold"}, "value": "normal"},
                "grid": true, "gridColor": "#333333", "gridWidth": 1,
                "gridDash": [0, 42, 8.5, 6, 8.5, 6, 8.5, 6, 8.5, 6, 8.5, 6, 8.5, 6, 8.5, 6, 8.5, 6, 8.5, 6, 8.5, 6, 8.5, 6, 8.5, 6, 8.5, 6, 8.5, 6, 8.5, 6, 8.5, 6, 8.5, 6, 8.5, 6, 8.5, 6, 8.5, 6, 8.5, 6, 8.5, 6, 8.5, 6, 8.5, 6, 8.5, 6, 8.5, 6, 8.5, 6, 8.5, 6, 8.5, 6, 8.5, 6, 8.5, 6, 8.5, 6, 8.5, 6, 8.5, 6, 8.5, 6, 8.5, 6, 8.5, 6, 8.5, 6, 8.5, 6, 8.5, 6, 8.5, 6, 8.5, 6, 8.5, 6, 8.5, 6, 8.5, 6, 8.5, 6, 8.5, 6, 8.5, 6, 8.5, 6, 8.5, 6, 8.5, 6, 8.5, 6, 8.5, 6, 8.5, 6, 8.5, 6, 8.5, 6, 8.5, 6, 8.5, 6, 8.5, 6, 8.5, 6, 8.5, 6, 8.5, 6, 8.5, 6, 8.5, 6, 8.5, 6, 8.5, 6, 8.5, 6, 8.5, 6, 8.5, 6, 8.5, 6, 8.5, 6, 8.5, 6, 8.5, 6, 8.5, 6, 8.5, 6, 8.5, 6, 8.5, 6, 8.5, 6, 8.5, 6, 8.5, 6, 8.5, 6, 8.5, 6, 8.5, 6, 8.5, 6, 8.5, 6, 8.5, 6, 8.5, 6, 8.5, 6, 8.5, 6, 8.5, 6, 8.5, 6, 8.5, 6],
                "gridOpacity": {"condition": {"test": "abs(datum.value*5 - round(datum.value*5)) < 0.001 && datum.value > 0", "value": 0.85}, "value": 0},
                "labelOverlap": false, "labelFlush": false, "labelBound": false, "minExtent": 0
              }
            },
            "detail": {"field": "troncon"},
            "order": {"value": null}
          }
        },
        {
          "data": {"values": [{"libelle": "Débit (m3/s)"}]},
          "mark": {"type": "text", "font": "Liberation Sans", "fontSize": 12.5, "align": "left", "baseline": "alphabetic", "color": "black"},
          "encoding": {
            "x": {"datum": 0.0609, "type": "quantitative"},
            "y": {"datum": 0.883, "type": "quantitative"},
            "text": {"field": "libelle"}
          }
        }
      ]
    },
    {
      "width": 1232,
      "height": 158,
      "layer": [
        {
          "data": {"name": "vitesse"},
          "mark": {"type": "line", "color": "#0000ff", "strokeWidth": 2},
          "encoding": {
            "x": {
              "field": "km", "type": "quantitative",
              "scale": {"domain": [-0.0595, 1.6863], "nice": false, "zero": false},
              "axis": {
                "title": null, "orient": "bottom", "offset": -5, "labels": false, "tickCount": 200,
                "values": [0, 0.05, 0.1, 0.15, 0.2, 0.25, 0.3, 0.35, 0.4, 0.45, 0.5, 0.55, 0.6, 0.65, 0.7, 0.75, 0.8, 0.85, 0.9, 0.95, 1, 1.05, 1.1, 1.15, 1.2, 1.25, 1.3, 1.35, 1.4, 1.45, 1.5, 1.55, 1.6, 1.65],
                "domain": true, "domainColor": "black", "domainWidth": 1.2,
                "ticks": true, "tickColor": "black", "tickWidth": 1, "tickSize": 3,
                "grid": true, "gridColor": "#111111", "gridWidth": 1, "gridDash": [0, 5, 11, 6],
                "gridOpacity": {"condition": {"test": "abs(datum.value*5 - round(datum.value*5)) < 0.001", "value": 0.9}, "value": 0},
                "minExtent": 0
              }
            },
            "y": {
              "field": "v", "type": "quantitative",
              "scale": {"domain": [-0.06494, 1.98701], "nice": false, "zero": false},
              "axis": {
                "title": null, "orient": "left", "offset": -42, "domain": false, "tickCount": 200,
                "values": [0, 0.2, 0.4, 0.6, 0.8, 1, 1.2, 1.4, 1.6, 1.8],
                "ticks": true, "tickColor": "black", "tickWidth": 1,
                "tickSize": {"condition": {"test": "datum.value == 0 || datum.value == 1", "value": 10}, "value": 5},
                "labelExpr": "datum.value == 0 ? '0' : datum.value == 1 ? '1' : ''",
                "labelFont": "Liberation Sans", "labelFontSize": 12, "labelColor": "black",
                "labelAlign": "right", "labelBaseline": "alphabetic", "labelPadding": 1,
                "labelFontWeight": {"condition": {"test": "datum.value == 0", "value": "bold"}, "value": "normal"},
                "grid": true, "gridColor": "#111111", "gridWidth": 1,
                "gridDash": [0, 42, 8.5, 6, 8.5, 6, 8.5, 6, 8.5, 6, 8.5, 6, 8.5, 6, 8.5, 6, 8.5, 6, 8.5, 6, 8.5, 6, 8.5, 6, 8.5, 6, 8.5, 6, 8.5, 6, 8.5, 6, 8.5, 6, 8.5, 6, 8.5, 6, 8.5, 6, 8.5, 6, 8.5, 6, 8.5, 6, 8.5, 6, 8.5, 6, 8.5, 6, 8.5, 6, 8.5, 6, 8.5, 6, 8.5, 6, 8.5, 6, 8.5, 6, 8.5, 6, 8.5, 6, 8.5, 6, 8.5, 6, 8.5, 6, 8.5, 6, 8.5, 6, 8.5, 6, 8.5, 6, 8.5, 6, 8.5, 6, 8.5, 6, 8.5, 6, 8.5, 6, 8.5, 6, 8.5, 6, 8.5, 6, 8.5, 6, 8.5, 6, 8.5, 6, 8.5, 6, 8.5, 6, 8.5, 6, 8.5, 6, 8.5, 6, 8.5, 6, 8.5, 6, 8.5, 6, 8.5, 6, 8.5, 6, 8.5, 6, 8.5, 6, 8.5, 6, 8.5, 6, 8.5, 6, 8.5, 6, 8.5, 6, 8.5, 6, 8.5, 6, 8.5, 6, 8.5, 6, 8.5, 6, 8.5, 6, 8.5, 6, 8.5, 6, 8.5, 6, 8.5, 6, 8.5, 6, 8.5, 6, 8.5, 6, 8.5, 6, 8.5, 6, 8.5, 6, 8.5, 6, 8.5, 6, 8.5, 6, 8.5, 6, 8.5, 6, 8.5, 6, 8.5, 6, 8.5, 6, 8.5, 6, 8.5, 6],
                "gridOpacity": {"condition": {"test": "datum.value == 1", "value": 0.9}, "value": 0},
                "labelOverlap": false, "labelFlush": false, "labelBound": false, "minExtent": 0
              }
            },
            "detail": {"field": "troncon"},
            "order": {"value": null}
          }
        },
        {
          "data": {"values": [{"libelle": "Vitesse dans le lit mineur (m/s)"}]},
          "mark": {"type": "text", "font": "Liberation Sans", "fontSize": 12.5, "align": "left", "baseline": "alphabetic", "color": "black"},
          "encoding": {
            "x": {"datum": 0.0609, "type": "quantitative"},
            "y": {"datum": 1.749, "type": "quantitative"},
            "text": {"field": "libelle"}
          }
        }
      ]
    }
  ]
}
